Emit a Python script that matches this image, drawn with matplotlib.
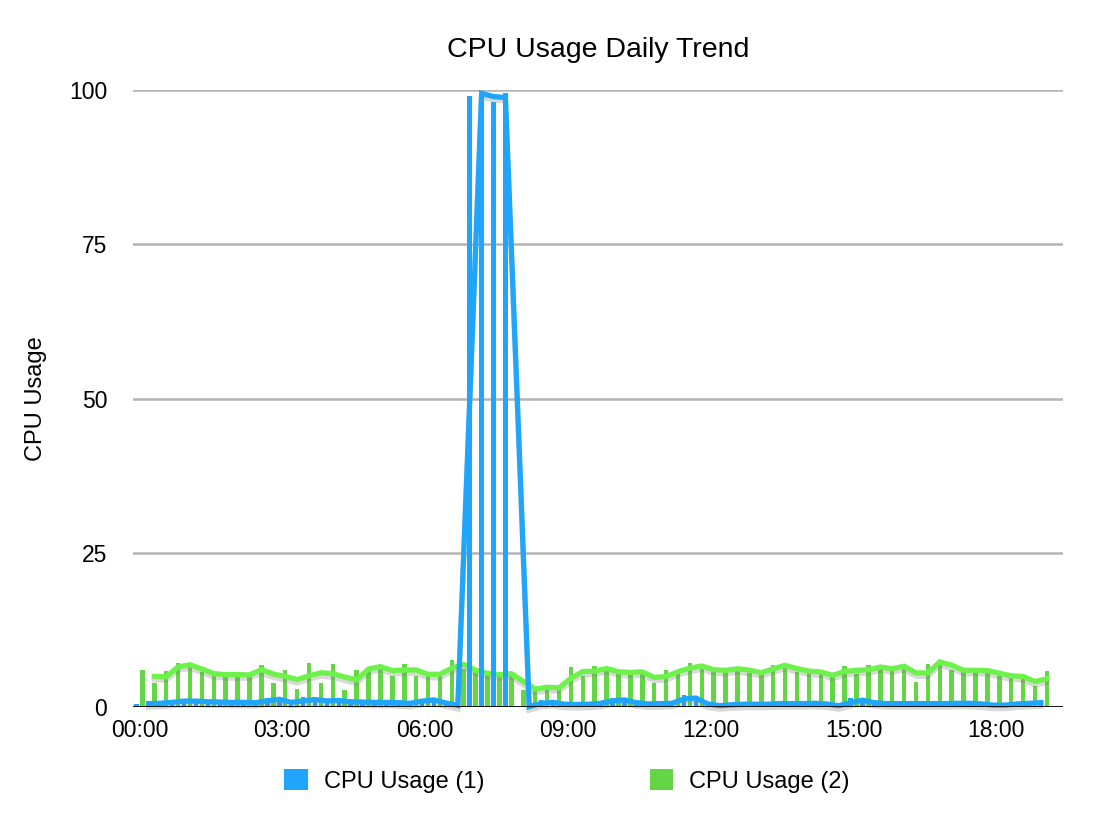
import numpy as np
import pandas as pd
import matplotlib
matplotlib.use('Agg')
import matplotlib.pyplot as plt
import matplotlib.patheffects as pe
from matplotlib.patches import Patch

# 15 minute samples from 00:00 to 19:00
times = ['%02d:%02d' % (m // 60, m % 60) for m in range(0, 19 * 60 + 1, 15)]

cpu1 = [0.5, 0.6, 0.6, 0.9, 1.0, 0.9, 0.8, 0.8, 0.7, 0.8,
        0.6, 1.4, 1.1, 0.4, 1.6, 0.8, 1.2, 0.9, 0.8, 0.8,
        0.7, 0.8, 0.6, 0.6, 1.3, 1.0, 0.3, 0.2, 99.1, 99.8,
        98.1, 99.5, 0.0, 0.1, 1.1, 0.4, 0.5, 0.3, 0.6, 0.6,
        1.4, 0.9, 0.5, 0.5, 0.6, 0.6, 2.0, 0.9, 0.1, 0.3,
        0.4, 0.5, 0.4, 0.5, 0.6, 0.5, 0.6, 0.6, 0.4, 0.0,
        1.4, 0.8, 0.6, 0.5, 0.6, 0.5, 0.6, 0.5, 0.6, 0.6,
        0.6, 0.4, 0.2, 0.4, 0.6, 0.6, 0.8]

cpu2 = [6.0, 3.9, 5.9, 7.1, 6.6, 5.7, 5.1, 5.4, 5.1, 5.3,
        6.8, 3.9, 6.0, 2.9, 7.2, 3.9, 6.9, 2.8, 6.0, 6.3,
        6.8, 5.0, 7.0, 5.0, 5.6, 5.0, 7.6, 6.2, 5.7, 5.2,
        5.3, 5.5, 2.8, 3.0, 3.4, 2.8, 6.5, 5.0, 6.6, 5.9,
        5.5, 5.7, 5.7, 3.9, 5.95, 5.5, 7.1, 6.2, 5.9, 5.95,
        6.45, 5.5, 5.6, 6.75, 6.75, 5.7, 5.95, 5.4, 4.9, 6.6,
        5.3, 6.75, 6.2, 6.2, 7.0, 4.05, 7.0, 7.6, 5.95, 5.95,
        5.95, 5.85, 5.1, 5.0, 4.9, 3.35, 5.8]

tick_labels = ['00:00', '03:00', '06:00', '09:00', '12:00', '15:00', '18:00']

blue = '#1fa5fc'
green = '#64d645'
greenLine = '#6ef24b'

plt.rcParams['font.family'] = ['Liberation Sans', 'DejaVu Sans']

fig = plt.figure(figsize=(11.06, 8.34), dpi=100)
ax = fig.add_axes([0.1207, 0.1523, 0.8404, 0.7397])

x = np.arange(len(times))
w = 0.38
off = 0.25

ax.bar(x - off, cpu1, width=w, color=blue, zorder=4)
ax.bar(x + off, cpu2, width=w, color=green, zorder=2)

# moving average trendlines (period 2), as in the original chart
ma1 = pd.Series(cpu1).rolling(2).mean()
ma2 = pd.Series(cpu2).rolling(2).mean()
shadow = [pe.SimpleLineShadow(offset=(0, -2.5), shadow_color='#808080', alpha=0.3),
          pe.Normal()]
ax.plot(x + off, ma2, color=greenLine, lw=3.8, zorder=3, path_effects=shadow,
        solid_joinstyle='miter', clip_on=False)
ax.plot(x - off, ma1, color=blue, lw=3.8, zorder=5, path_effects=shadow,
        solid_joinstyle='miter', clip_on=False)

ax.set_xlim(-0.5, 77.6)
ax.set_ylim(0, 100)
ax.set_yticks([0, 25, 50, 75, 100])
ax.set_xticks(np.arange(0, 73, 12))
ax.set_xticklabels(tick_labels)
ax.tick_params(axis='both', length=0, labelsize=16.5)
ax.tick_params(axis='y', pad=19)
ax.tick_params(axis='x', pad=9)

for s in ax.spines.values():
    s.set_visible(False)
for yv in [25, 50, 75, 100]:
    ax.axhline(yv, color='#b4b4b4', lw=1.8, zorder=1)
ax.axhline(0, color='black', lw=1.3, zorder=6)

ax.set_ylabel('CPU Usage', fontsize=17, labelpad=16)
ax.set_title('CPU Usage Daily Trend', fontsize=20.5, pad=24)

handles = [Patch(facecolor=blue, label='CPU Usage (1)'),
           Patch(facecolor=green, label='CPU Usage (2)')]
fig.legend(handles=handles, loc='center', bbox_to_anchor=(0.5127, 0.0635), ncol=2,
           frameon=False, fontsize=17, handlelength=1.0, handleheight=1.0,
           handletextpad=0.68, columnspacing=7.0)

fig.savefig('out.png', dpi=100)
